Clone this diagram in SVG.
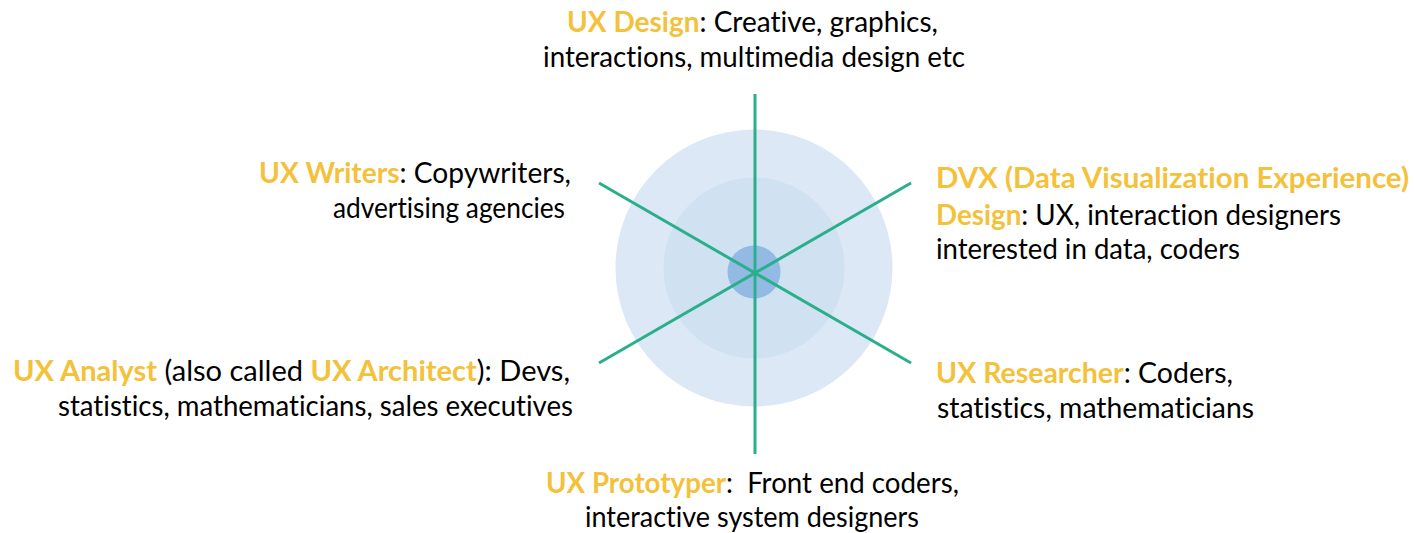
<svg xmlns="http://www.w3.org/2000/svg" width="1414" height="533" viewBox="0 0 1414 533">
<style>
text{font-family:Lato,"Liberation Sans",sans-serif;font-size:28px;fill:#000;white-space:pre;font-variant-ligatures:none}
.h{fill:#F3C13A;font-weight:bold}
.ray{stroke:#2AAE8B;stroke-width:3;fill:none}
</style>
<rect width="1414" height="533" fill="#fff"/>
<g id="hub">
<circle cx="754" cy="268" r="138.5" fill="#DCE8F5"/>
<circle cx="754" cy="268" r="90.5" fill="#D0E1F2"/>
<circle cx="754" cy="272" r="26.5" fill="#92BAE2"/>
</g>
<g id="connectors">
<line class="ray" x1="755" y1="94" x2="755" y2="454"/>
<line class="ray" x1="599" y1="183" x2="911" y2="363"/>
<line class="ray" x1="599" y1="363" x2="911" y2="183"/>
</g>
<g id="ux-design">
<text x="567" y="32" textLength="371" lengthAdjust="spacingAndGlyphs"><tspan class="h">UX Design</tspan>: Creative, graphics,</text>
<text x="543" y="67" textLength="422" lengthAdjust="spacingAndGlyphs">interactions, multimedia design etc</text>
</g>
<g id="ux-writers">
<text x="259" y="183" textLength="312" lengthAdjust="spacingAndGlyphs"><tspan class="h">UX Writers</tspan>: Copywriters,</text>
<text x="333" y="218" textLength="232" lengthAdjust="spacingAndGlyphs">advertising agencies</text>
</g>
<g id="dvx-design">
<text x="936" y="188" textLength="473" lengthAdjust="spacingAndGlyphs" class="h">DVX (Data Visualization Experience)</text>
<text x="936" y="225" textLength="405" lengthAdjust="spacingAndGlyphs"><tspan class="h">Design</tspan>: UX, interaction designers</text>
<text x="936" y="259" textLength="304" lengthAdjust="spacingAndGlyphs">interested in data, coders</text>
</g>
<g id="ux-analyst">
<text x="13" y="381" textLength="557" lengthAdjust="spacingAndGlyphs"><tspan class="h">UX Analyst</tspan> (also called <tspan class="h">UX Architect</tspan>): Devs,</text>
<text x="58" y="416" textLength="515" lengthAdjust="spacingAndGlyphs">statistics, mathematicians, sales executives</text>
</g>
<g id="ux-researcher">
<text x="936" y="383" textLength="297" lengthAdjust="spacingAndGlyphs"><tspan class="h">UX Researcher</tspan>: Coders,</text>
<text x="937" y="418" textLength="317" lengthAdjust="spacingAndGlyphs">statistics, mathematicians</text>
</g>
<g id="ux-prototyper">
<text x="546" y="493" textLength="413" lengthAdjust="spacingAndGlyphs"><tspan class="h">UX Prototyper</tspan>:  Front end coders,</text>
<text x="585" y="527" textLength="334" lengthAdjust="spacingAndGlyphs">interactive system designers</text>
</g>
</svg>
